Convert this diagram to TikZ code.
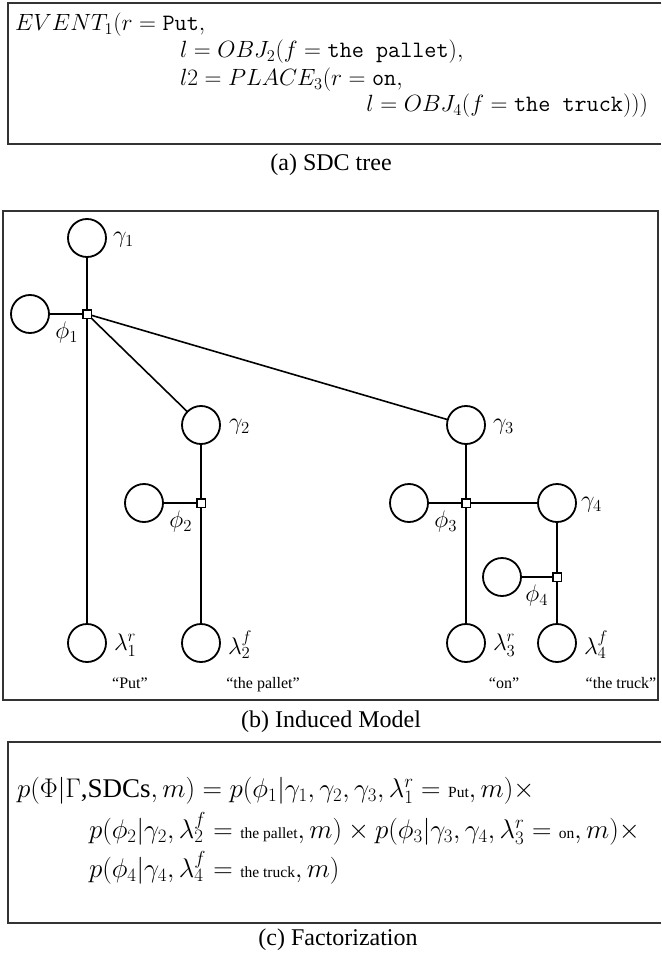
\RequirePackage{fix-cm}
\documentclass[tikz,border=0pt]{standalone}
\usepackage{fontspec}
\newfontfamily\timesf{Liberation Serif}
\newcommand{\smtf}{\timesf\fontsize{15.5}{18}\selectfont}
\usetikzlibrary{calc}
\begin{document}
\begin{tikzpicture}[x=1pt,y=-1pt,
  every node/.style={inner sep=0pt, outer sep=0pt},
  var/.style={circle, draw, line width=1.8pt, minimum size=38pt, inner sep=0pt},
  fac/.style={rectangle, draw, fill=white, line width=1.5pt, minimum size=8.5pt, inner sep=0pt},
  conn/.style={line width=1.6pt},
  boxline/.style={line width=1.2pt, draw=black!80},
  lab/.style={font={\fontsize{24}{28}\selectfont}, anchor=west},
  philab/.style={font={\fontsize{24}{28}\selectfont}, anchor=north east},
  qlab/.style={font={\timesf\fontsize{16}{19}\selectfont}, anchor=base},
  capt/.style={font={\timesf\fontsize{24}{28}\selectfont}, anchor=base},
  mathA/.style={font={\fontsize{23.5}{28}\selectfont}, anchor=base west},
  mathC/.style={font={\fontsize{27}{32}\selectfont}, anchor=base west}]
\useasboundingbox (0,0) rectangle (661,957);

% (a) SDC tree
\draw[boxline] (661,3) -- (8,3) -- (8,144) -- (661,144);
\node[mathA] (a1) at (15,31) {$EVENT_1(r = \texttt{Put},$};
\node[mathA] (a2) at (180,58) {$l = OBJ_2(f = \texttt{the pallet}),$};
\node[mathA] (a3) at (180,86) {$l2 = PLACE_3(r = \texttt{on},$};
\node[mathA, anchor=base east] (a4) at (648,112) {$l = OBJ_4(f = \texttt{the truck})))$};
\node[capt] (capa) at (331,171) {(a) SDC tree};

% (b) Induced model
\draw[boxline] (3,211) rectangle (658,700);

\node[var] (g1) at (87,238) {};
\node[fac] (f1) at (87,314) {};
\node[var] (c1) at (30,314) {};
\node[var] (l1) at (87,643) {};

\node[var] (g2) at (201,425) {};
\node[fac] (f2) at (201,503) {};
\node[var] (c2) at (144,503) {};
\node[var] (l2) at (201,643) {};

\node[var] (g3) at (466,425) {};
\node[fac] (f3) at (466,503) {};
\node[var] (c3) at (409,503) {};
\node[var] (g4) at (557,503) {};
\node[fac] (f4) at (557,577) {};
\node[var] (c4) at (502,577) {};
\node[var] (l3) at (466,643) {};
\node[var] (l4) at (557,643) {};

\draw[conn] (g1) -- (f1);
\draw[conn] (c1) -- (f1);
\draw[conn] (f1) -- (l1);
\draw[conn] (f1) -- (g2);
\draw[conn] (f1) -- (g3);
\draw[conn] (g2) -- (f2);
\draw[conn] (c2) -- (f2);
\draw[conn] (f2) -- (l2);
\draw[conn] (g3) -- (f3);
\draw[conn] (c3) -- (f3);
\draw[conn] (f3) -- (g4);
\draw[conn] (f3) -- (l3);
\draw[conn] (g4) -- (f4);
\draw[conn] (c4) -- (f4);
\draw[conn] (f4) -- (l4);

\node[lab] (tg1) at ($(g1)+(26,2)$) {$\gamma_1$};
\node[lab] (tg2) at ($(g2)+(28,2)$) {$\gamma_2$};
\node[lab] (tg3) at ($(g3)+(27,2)$) {$\gamma_3$};
\node[lab] (tg4) at ($(g4)+(24,2)$) {$\gamma_4$};
\node[lab] (tl1) at ($(l1)+(27,2)$) {$\lambda_1^r$};
\node[lab] (tl2) at ($(l2)+(27,2)$) {$\lambda_2^f$};
\node[lab] (tl3) at ($(l3)+(27,2)$) {$\lambda_3^r$};
\node[lab] (tl4) at ($(l4)+(27,2)$) {$\lambda_4^f$};

\node[philab] (tf1) at ($(f1)+(-9,8)$) {$\phi_1$};
\node[philab] (tf2) at ($(f2)+(-9,8)$) {$\phi_2$};
\node[philab] (tf3) at ($(f3)+(-9,8)$) {$\phi_3$};
\node[philab] (tf4) at ($(f4)+(-9,8)$) {$\phi_4$};

\node[qlab] (q1) at (130,688) {“Put”};
\node[qlab] (q2) at (263,688) {“the pallet”};
\node[qlab] (q3) at (504,688) {“on”};
\node[qlab] (q4) at (621,688) {“the truck”};

\node[capt] (capb) at (331,727) {(b) Induced Model};

% (c) Factorization
\draw[boxline] (661,742) -- (8,742) -- (8,923) -- (661,923);
\node[mathC] (c1l) at (17,797) {$p(\Phi|\Gamma\mbox{\timesf ,SDCs}, m) = p(\phi_1|\gamma_1, \gamma_2, \gamma_3, \lambda_1^r = \mbox{\smtf Put}, m)\times$};
\node[mathC] (c2l) at (89,838) {$p(\phi_2|\gamma_2, \lambda_2^f = \mbox{\smtf the pallet}, m) \times p(\phi_3|\gamma_3, \gamma_4, \lambda_3^r = \mbox{\smtf on}, m)\times$};
\node[mathC] (c3l) at (89,877) {$p(\phi_4|\gamma_4, \lambda_4^f = \mbox{\smtf the truck}, m)$};
\node[capt] (capc) at (338,945) {(c) Factorization};
\end{tikzpicture}
\end{document}
